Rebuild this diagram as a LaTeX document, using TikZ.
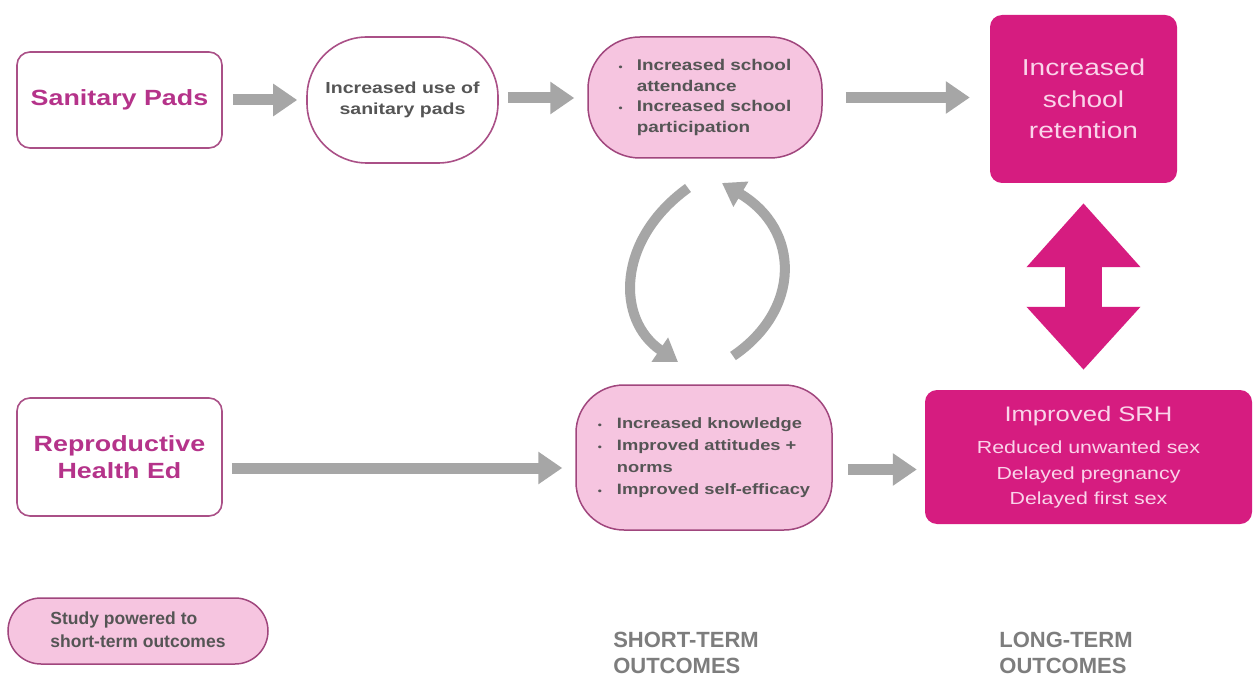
\documentclass[tikz,border=0pt]{standalone}
\usepackage{fontspec}
\setmainfont{Liberation Sans}[FakeStretch=1.22]
\newfontfamily\plainsans{Liberation Sans}
\usetikzlibrary{arrows.meta}
\definecolor{mag}{RGB}{214,28,128}
\definecolor{pinkfill}{RGB}{246,197,224}
\definecolor{pinkborder}{RGB}{160,70,125}
\definecolor{boxborder}{RGB}{170,80,135}
\definecolor{magtext}{RGB}{181,51,138}
\definecolor{grayarrow}{RGB}{166,166,166}
\definecolor{darktext}{RGB}{85,85,85}
\definecolor{lighttext}{RGB}{250,212,234}
\definecolor{labelgray}{RGB}{125,125,125}
\newcommand\bul{{\fontsize{9.5}{9.5}\selectfont •}}
\begin{document}
\begin{tikzpicture}[x=1pt,y=-1pt,
  inputbox/.style={draw=boxborder, line width=1.6pt, rounded corners=13pt, fill=white,
    minimum width=205pt, minimum height=96pt, align=center, text=magtext, inner sep=0pt,
    font=\fontsize{22}{27}\selectfont\bfseries},
  ovalbox/.style={draw=boxborder, line width=1.6pt, fill=white, inner sep=0pt,
    text=darktext, font=\fontsize{16}{21}\selectfont\bfseries},
  shortbox/.style={draw=pinkborder, line width=1.5pt, fill=pinkfill, inner sep=0pt,
    text=darktext},
  longbox/.style={fill=mag, rounded corners=12pt, inner sep=0pt, align=center,
    text=lighttext},
  garrow/.style={draw=grayarrow, line width=11pt, -{Triangle[width=31pt,length=24pt]}},
  carrow/.style={draw=grayarrow, line width=10pt, -{Triangle[width=28pt,length=22pt]}},
  dblarrow/.style={draw=mag, line width=37pt,
    {Triangle[width=110pt,length=64pt]}-{Triangle[width=110pt,length=63pt]}},
  phase/.style={align=left, text=labelgray, font=\plainsans\fontsize{22}{26}\selectfont\bfseries}
]
\useasboundingbox[fill=white] (0,0) rectangle (1255,679);

% input boxes
\node[inputbox] (sp) at (119.5,100) {Sanitary Pads};
\node[inputbox, minimum height=118pt] (rhe) at (119.5,457) {Reproductive\\Health Ed};

% intermediate oval
\node[ovalbox, minimum width=191pt, minimum height=126pt, rounded corners=60pt] (ell) at (402.5,100)
  {\raisebox{4pt}{\begin{tabular}{@{}c@{}}Increased use of\\sanitary pads\end{tabular}}};

% short-term outcome nodes
\node[shortbox, minimum width=234pt, minimum height=121pt, rounded corners=52pt,
  font=\fontsize{15.5}{20.7}\selectfont\bfseries] (stop) at (705,97.5)
  {\begin{tabular}{@{}l@{\hspace{14pt}}l@{}}
   \bul & Increased school\\
        & attendance\\
   \bul & Increased school\\
        & participation
   \end{tabular}};
\node[shortbox, minimum width=256pt, minimum height=145pt, rounded corners=48pt,
  font=\fontsize{15}{22}\selectfont\bfseries] (sbot) at (704,457.5)
  {\begin{tabular}{@{}l@{\hspace{15pt}}l@{}}
   \bul & Increased knowledge\\
   \bul & Improved attitudes +\\
        & norms\\
   \bul & Improved self-efficacy
   \end{tabular}};

% long-term outcome boxes
\node[longbox, minimum width=187pt, minimum height=168pt,
  font=\fontsize{23}{31.5}\selectfont] (ret) at (1083.5,99) {Increased\\school\\retention};
\node[longbox, minimum width=327pt, minimum height=134pt,
  font=\fontsize{17.5}{25.5}\selectfont] (srh) at (1088.5,457)
  {{\fontsize{21}{25}\selectfont Improved SRH}\\[7pt]
   Reduced unwanted sex\\
   Delayed pregnancy\\
   Delayed first sex};

% legend
\node[shortbox, minimum width=260pt, minimum height=66pt, rounded corners=33pt,
  font=\plainsans\fontsize{17.5}{23}\selectfont\bfseries] (leg) at (138,631)
  {\begin{tabular}{@{}l@{}}Study powered to\\short-term outcomes\end{tabular}\hspace{16pt}};

% phase labels
\node[phase] (stlab) at (686,653) {SHORT-TERM\\OUTCOMES};
\node[phase] (ltlab) at (1066,653) {LONG-TERM\\OUTCOMES};

% connectors
\draw[garrow, shorten <=10pt, shorten >=9pt] (sp.east) -- (sp.east -| ell.west);
\draw[garrow, shorten <=9pt, shorten >=13pt] ([yshift=2pt]ell.east) -- ([yshift=2pt]ell.east -| stop.west);
\draw[garrow, shorten <=23pt, shorten >=20pt] (stop.east) -- (stop.east -| ret.west);
\draw[garrow, shorten <=9pt, shorten >=13pt] ([yshift=-11pt]rhe.east) -- ([yshift=-11pt]rhe.east -| sbot.west);
\draw[garrow, shorten <=15pt, shorten >=8pt] ([yshift=-12pt]sbot.east) -- ([yshift=-12pt]sbot.east -| srh.west);

% feedback cycle
\coordinate (c1s) at (688,188);
\coordinate (c1e) at (678,362);
\coordinate (c2s) at (733,356);
\coordinate (c2e) at (722,183);
\draw[carrow] (c1s) .. controls (616,240) and (616,320) .. (c1e);
\draw[carrow] (c2s) .. controls (801,310) and (801,230) .. (c2e);

% double arrow between long-term outcomes
\draw[dblarrow, shorten <=20pt, shorten >=20pt] (ret.south) -- (ret.south |- srh.north);
\end{tikzpicture}
\end{document}
